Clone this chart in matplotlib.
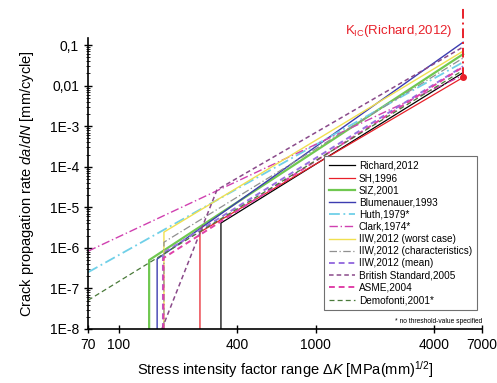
import matplotlib
matplotlib.use("Agg")
import matplotlib.pyplot as plt
from matplotlib.lines import Line2D

plt.rcParams['font.family'] = ['Liberation Sans', 'DejaVu Sans']
plt.rcParams['mathtext.fontset'] = 'custom'
plt.rcParams['mathtext.rm'] = 'Liberation Sans'
plt.rcParams['mathtext.it'] = 'Liberation Sans:italic'

# crack growth curves, dK in MPa(mm)^0.5, da/dN in mm/cycle
labels = ['Richard,2012', 'SH,1996', 'SIZ,2001', 'Blumenauer,1993', 'Huth,1979*',
          'Clark,1974*', 'IIW,2012 (worst case)', 'IIW,2012 (characteristics)',
          'IIW,2012 (mean)', 'British Standard,2005', 'ASME,2004', 'Demofonti,2001*']
k_start = [331, 259, 143, 157, 70, 70, 170, 170, 168, 166, 169, 70]
rate_start = [4.1e-6, 2.45e-6, 5.0e-7, 5.3e-7, 2.5e-7, 8.3e-7, 2.45e-6, 1.38e-6,
              7.4e-7, 1e-8, 5.6e-7, 5.1e-8]
has_threshold = [True, True, True, True, False, False, True, True, True, False, True, False]
rate_end = [0.021, 0.016, 0.06, 0.118, 0.038, 0.018, 0.071, 0.048, 0.03, 0.09, 0.029, 0.024]
k_ic = 5610
k_ic_rate = 0.016
bs_knee_k = 316
bs_knee_rate = 2.7e-5
rate_floor = 1e-8

colors = ['black', '#e8202a', '#70c850', '#3c3cb0', '#70d0e8', '#d040b0',
          '#f0e050', '#909090', '#9870e0', '#8a4a8a', '#e040a8', '#4a7a3a']
styles = ['-', '-', '-', '-', (0, (6, 2, 1, 2)), (0, (6, 2, 1, 2)), '-',
          (0, (6, 2, 1, 2)), (0, (3, 2)), (0, (3, 2)), (0, (3, 2)), (0, (4, 2.5))]
widths = [0.9, 0.9, 1.6, 1.0, 1.3, 1.0, 1.0, 0.9, 1.4, 1.1, 1.4, 0.9]

fig = plt.figure(figsize=(4.97, 3.83), dpi=100)
ax = fig.add_axes([0.1771, 0.141, 0.7928, 0.7598])

handles = []
for i, lab in enumerate(labels):
    ks = [k_start[i]]
    rs = [rate_start[i]]
    if has_threshold[i]:
        ks = [k_start[i], k_start[i]]
        rs = [rate_floor, rate_start[i]]
    if lab.startswith('British'):
        ks.append(bs_knee_k)
        rs.append(bs_knee_rate)
    ks.append(k_ic)
    rs.append(rate_end[i])
    ax.plot(ks, rs, color=colors[i], ls=styles[i], lw=widths[i])
    handles.append(Line2D([], [], color=colors[i], ls=styles[i], lw=widths[i]))

# fracture toughness marker
ax.plot([k_ic, k_ic], [k_ic_rate, 0.82], color='#e8202a', lw=1.4,
        ls=(0, (5, 2, 1, 2)), clip_on=False)
ax.plot([k_ic], [k_ic_rate], 'o', color='#e8202a', ms=4, clip_on=False)
ax.text(4950, 0.22, r'K$_{\mathrm{IC}}$(Richard,2012)', color='#e8202a',
        fontsize=9.5, ha='right', va='center')

ax.set_xscale('log')
ax.set_yscale('log')
ax.set_xlim(70, 7000)
ax.set_ylim(1e-8, 0.15)

xt = [70, 100, 400, 1000, 4000, 7000]
ax.set_xticks(xt)
ax.set_xticklabels([str(v) for v in xt])
ax.xaxis.set_minor_locator(matplotlib.ticker.NullLocator())
yt = [1e-8, 1e-7, 1e-6, 1e-5, 1e-4, 1e-3, 1e-2, 1e-1]
ax.set_yticks(yt)
ax.set_yticklabels(['1E-8', '1E-7', '1E-6', '1E-5', '1E-4', '1E-3', '0,01', '0,1'])
ax.yaxis.set_minor_locator(matplotlib.ticker.LogLocator(base=10, subs=range(2, 10)))
ax.yaxis.set_minor_formatter(matplotlib.ticker.NullFormatter())

ax.tick_params(axis='both', which='major', labelsize=10, direction='inout',
               length=6, width=1.0)
ax.tick_params(axis='y', which='minor', direction='inout', length=3, width=0.6)
for s in ['top', 'right']:
    ax.spines[s].set_visible(False)
for s in ['left', 'bottom']:
    ax.spines[s].set_linewidth(1.2)

ax.set_xlabel(r'Stress intensity factor range Δ$K$ [MPa(mm)$^{1/2}$]',
              fontsize=10.5, labelpad=5)
ax.set_ylabel(r'Crack propagation rate $da/dN$ [mm/cycle]', fontsize=10.5,
              labelpad=10)

leg = ax.legend(handles, labels, loc='lower right', bbox_to_anchor=(1.0, 0.048),
                fontsize=7.2, handlelength=2.6, labelspacing=0.22,
                handletextpad=0.4, borderpad=0.5, fancybox=False,
                framealpha=1, edgecolor='#707070')
leg.get_frame().set_linewidth(0.8)
ax.text(1.0, 0.025, '* no threshold-value specified', transform=ax.transAxes,
        fontsize=4.8, ha='right', va='center')

fig.savefig('out.png', dpi=100)
